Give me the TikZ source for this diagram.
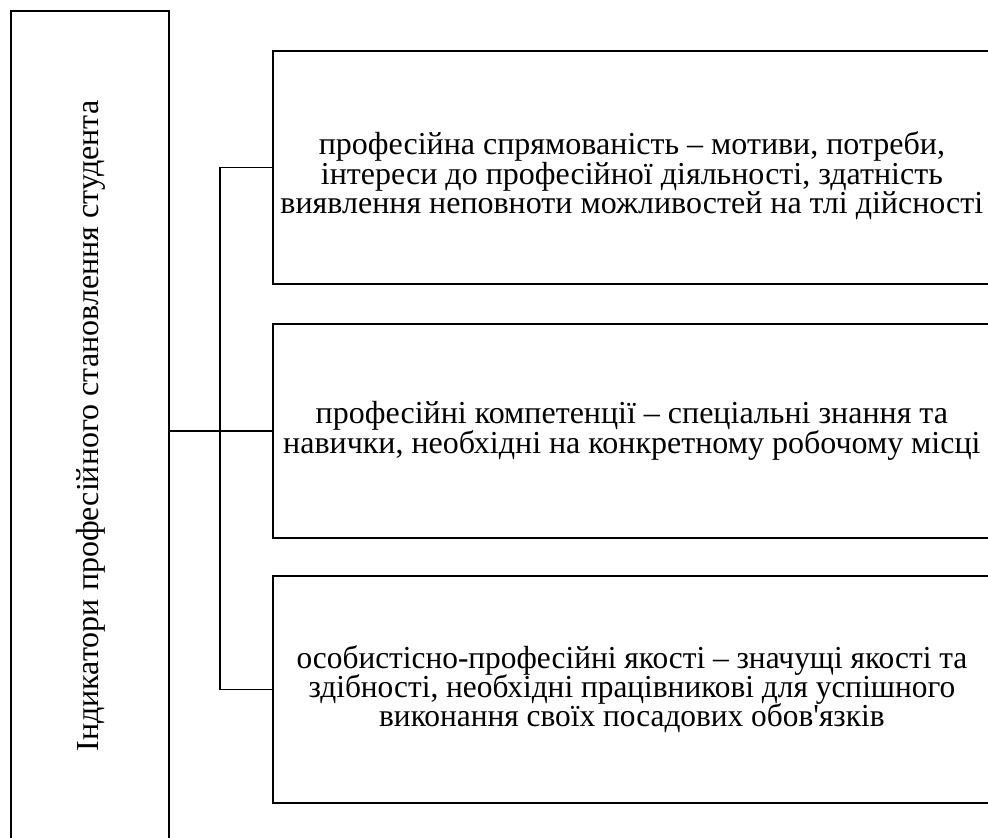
\documentclass[tikz,border=0pt]{standalone}
\usepackage{fontspec}
\setmainfont{Liberation Serif}
\newfontfamily\narrowfont[FakeStretch=0.98]{Liberation Serif}
\usetikzlibrary{positioning}
\newcommand\tightlines{\lineskiplimit=-30pt\relax}
\tikzset{
	frame/.style={draw, line width=1.8pt, inner sep=0pt},
	itembox/.style={frame, anchor=north west, minimum width=718pt, align=center,
			font=\fontsize{32}{29.5}\selectfont\tightlines},
	link/.style={line width=1.8pt}
}

\begin{document}
\begin{tikzpicture}[x=1pt, y=-1pt]
			\useasboundingbox (0,0) rectangle (988,838);

			% Left box with the rotated title
			\node[frame, anchor=north west, minimum width=158pt, minimum height=840pt] (ind) at (10,10) {};
			\node[rotate=90, anchor=base, font=\fontsize{32}{34}\selectfont] (indtxt) at (98,426)
				{Індикатори професійного становлення студента};

			% Boxes on the right
			\node[itembox, minimum height=233pt] (napr) at (272,50)
				{\rule{0pt}{40pt}професійна спрямованість – мотиви, потреби,\\
					інтереси до професійної діяльності, здатність\\
					виявлення неповноти можливостей на тлі дійсності};
			\node[itembox, minimum height=214pt] (komp) at (272,323)
				{професійні компетенції – спеціальні знання та\\
					навички, необхідні на конкретному робочому місці};
			\node[itembox, minimum height=227pt, font=\narrowfont\fontsize{32}{29}\selectfont\tightlines] (osob) at (272,575)
				{особистісно-професійні якості – значущі якості та\\
					здібності, необхідні працівникові для успішного\\
					виконання своїх посадових обов'язків};

			% Connectors
			\coordinate (bus) at (220,430);
			\draw[link] (napr.west) -| (bus) |- (osob.west);
			\draw[link] (ind.east) -- (ind.east -| komp.west);
		\end{tikzpicture}
\end{document}
